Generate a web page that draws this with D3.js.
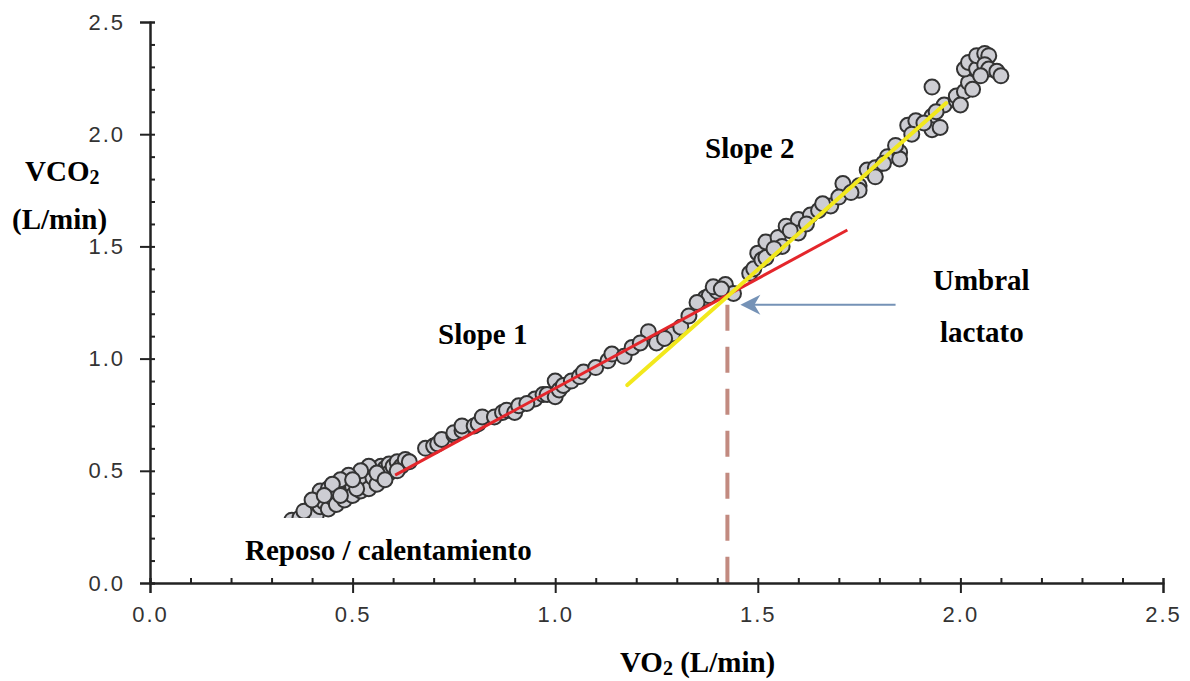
<!DOCTYPE html>
<html>
<head>
<meta charset="utf-8">
<script src="https://cdn.jsdelivr.net/npm/d3@7"></script>
<style>
  html, body { margin: 0; padding: 0; background: #fff; }
  svg { display: block; }
</style>
</head>
<body>
<svg id="chart" width="1190" height="681"></svg>
<script>
// VO2 (L/min) vs VCO2 (L/min) breath samples
const restPoints = [
  [0.35,0.28],[0.37,0.29],[0.39,0.31],[0.40,0.33],[0.41,0.30],[0.42,0.34],[0.43,0.36],
  [0.44,0.33],[0.42,0.41],[0.44,0.42],[0.45,0.38],[0.46,0.40],[0.46,0.35],[0.47,0.43],
  [0.48,0.41],[0.48,0.37],[0.49,0.45],[0.50,0.43],[0.50,0.39],[0.51,0.47],[0.52,0.44],
  [0.52,0.41],[0.53,0.49],[0.53,0.45],[0.54,0.42],[0.55,0.50],[0.55,0.47],[0.56,0.44],
  [0.57,0.52],[0.57,0.48],[0.58,0.51],[0.59,0.53],[0.59,0.49],[0.60,0.52],[0.61,0.54],
  [0.62,0.52],[0.63,0.55],[0.64,0.54],[0.54,0.52],[0.52,0.50],[0.49,0.48],[0.47,0.46],
  [0.45,0.44],[0.38,0.32],[0.40,0.37],[0.43,0.39],[0.47,0.39],[0.51,0.42],[0.56,0.49],
  [0.58,0.46],[0.50,0.46],[0.61,0.50]
];
const slope1Points = [
  [0.68,0.60],[0.70,0.61],[0.71,0.62],[0.72,0.64],[0.75,0.66],[0.75,0.67],[0.77,0.68],
  [0.77,0.70],[0.80,0.70],[0.81,0.71],[0.82,0.74],[0.85,0.74],[0.87,0.76],[0.88,0.77],
  [0.90,0.76],[0.91,0.79],[0.95,0.82],[0.93,0.80],[0.97,0.84],[0.98,0.84],[1.00,0.83],
  [1.00,0.90],[1.01,0.86],[1.02,0.88],[1.04,0.90],[1.06,0.92],[1.07,0.94],[1.10,0.96],
  [1.13,0.99],[1.14,1.02],[1.17,1.01],[1.19,1.05],[1.23,1.12],[1.25,1.07],[1.29,1.11],
  [1.31,1.14],[1.33,1.19],[1.37,1.27],[1.38,1.28],[1.40,1.30],[1.42,1.33],[1.44,1.29],
  [1.21,1.07],[1.27,1.09],[1.35,1.25],[1.39,1.32],[1.41,1.31]
];
const slope2Points = [
  [1.48,1.38],[1.49,1.40],[1.50,1.47],[1.51,1.44],[1.52,1.52],[1.52,1.45],[1.55,1.54],
  [1.56,1.50],[1.57,1.59],[1.60,1.62],[1.60,1.56],[1.63,1.64],[1.65,1.66],[1.68,1.68],
  [1.71,1.78],[1.75,1.77],[1.75,1.75],[1.77,1.84],[1.79,1.85],[1.79,1.81],[1.82,1.90],
  [1.85,1.92],[1.85,1.89],[1.87,2.04],[1.89,2.06],[1.93,2.08],[1.93,2.02],[1.95,2.03],
  [1.96,2.13],[1.99,2.15],[1.54,1.49],[1.58,1.57],[1.62,1.60],[1.66,1.69],[1.70,1.72],
  [1.73,1.74],[1.81,1.87],[1.84,1.95],[1.88,2.00],[1.91,2.05],[1.94,2.10]
];
const peakPoints = [
  [1.93,2.21],[1.99,2.17],[2.01,2.19],[2.02,2.23],[2.01,2.29],[2.02,2.32],[2.04,2.29],
  [2.04,2.35],[2.06,2.36],[2.07,2.35],[2.06,2.31],[2.07,2.29],[2.09,2.28],[2.10,2.26],
  [2.05,2.26],[2.03,2.20],[2.00,2.13]
];

// Fitted segments below and above the threshold
const slope1Fit = [[0.605,0.481],[1.721,1.573]];
const slope2Fit = [[1.178,0.882],[1.965,2.139]];

// Lactate threshold marker
const thresholdVO2 = 1.425;
const thresholdVCO2 = 1.24;
const arrowStartVO2 = 1.84;
const arrowTipVO2 = 1.457;

const xTicks = [0, 0.5, 1.0, 1.5, 2.0, 2.5];
const yTicks = [0, 0.5, 1.0, 1.5, 2.0, 2.5];
const minorTicks = d3.range(0, 26).map(i => i / 10);

const svg = d3.select("#chart");
const x = d3.scaleLinear().domain([0, 2.5]).range([150, 1163]);
const y = d3.scaleLinear().domain([0, 2.5]).range([583, 22]);

// Scatter of breath samples
const allPoints = restPoints.concat(slope1Points, slope2Points, peakPoints);
svg.append("g").selectAll("circle")
  .data(allPoints)
  .join("circle")
  .attr("cx", d => x(d[0]))
  .attr("cy", d => y(d[1]))
  .attr("r", 7.5)
  .attr("fill", "#cdcdd3")
  .attr("stroke", "#333")
  .attr("stroke-width", 2);

const line = d3.line().x(d => x(d[0])).y(d => y(d[1]));

svg.append("path").datum(slope1Fit)
  .attr("d", line).attr("fill", "none")
  .attr("stroke", "#e4262b").attr("stroke-width", 3);

svg.append("path").datum(slope2Fit)
  .attr("d", line).attr("fill", "none")
  .attr("stroke", "#f2e81c").attr("stroke-width", 4).attr("stroke-linecap", "round");

// Threshold dashed drop line
svg.append("line")
  .attr("x1", x(thresholdVO2)).attr("x2", x(thresholdVO2))
  .attr("y1", y(thresholdVCO2)).attr("y2", y(0))
  .attr("stroke", "#c28a80").attr("stroke-width", 4)
  .attr("stroke-dasharray", "26,16");

// Arrow pointing at the threshold
const ay = y(thresholdVCO2);
svg.append("line")
  .attr("x1", x(arrowStartVO2)).attr("x2", x(arrowTipVO2) + 12)
  .attr("y1", ay).attr("y2", ay)
  .attr("stroke", "#7592b6").attr("stroke-width", 2);
const tx = x(arrowTipVO2);
svg.append("path")
  .attr("d", `M${tx},${ay} L${tx + 20},${ay - 10} L${tx + 14},${ay} L${tx + 20},${ay + 10} Z`)
  .attr("fill", "#7592b6");

// Blank panel behind the resting-phase label
svg.append("rect")
  .attr("x", 237).attr("y", 518).attr("width", 312).attr("height", 58)
  .attr("fill", "#fff");

// Axes
const axisFont = "'Liberation Sans', Arial, sans-serif";
svg.append("g").attr("transform", `translate(0,${y(0)})`)
  .call(d3.axisBottom(x).tickValues(xTicks).tickSize(10).tickPadding(13)
    .tickFormat(d3.format(".1f")));
svg.append("g").attr("transform", `translate(0,${y(0)})`)
  .call(d3.axisBottom(x).tickValues(minorTicks).tickSize(-5).tickFormat(""));
svg.append("g").attr("transform", `translate(${x(0)},0)`)
  .call(d3.axisLeft(y).tickValues(yTicks).tickSize(10).tickPadding(15)
    .tickFormat(d3.format(".1f")));
svg.append("g").attr("transform", `translate(${x(0)},0)`)
  .call(d3.axisLeft(y).tickValues(minorTicks).tickSize(-5).tickFormat(""));

svg.selectAll(".domain").attr("stroke", "#222").attr("stroke-width", 2);
svg.selectAll(".tick line").attr("stroke", "#222").attr("stroke-width", 2);
svg.selectAll(".tick text")
  .attr("font-family", axisFont).attr("font-size", 22)
  .attr("letter-spacing", 2).attr("fill", "#333");

// Annotations
const serif = "'Liberation Serif', 'Times New Roman', serif";
function label(tx, ty, parts, anchor) {
  const t = svg.append("text")
    .attr("x", tx).attr("y", ty)
    .attr("font-family", serif).attr("font-weight", "bold")
    .attr("font-size", 29).attr("fill", "#000")
    .attr("text-anchor", anchor || "start");
  parts.forEach(p => {
    const s = t.append("tspan").text(p.text);
    if (p.sub) s.attr("font-size", 20).attr("dy", 3);
    if (p.after) s.attr("dy", -3);
  });
  return t;
}

label(25, 181, [{text: "VCO"}, {text: "2", sub: true}]);
label(12, 229, [{text: "(L/min)"}]);
label(705, 158, [{text: "Slope 2"}]);
label(438, 344, [{text: "Slope 1"}]);
label(933, 290, [{text: "Umbral"}]);
label(940, 342, [{text: "lactato"}]);
label(245, 560, [{text: "Reposo / calentamiento"}]);
label(620, 672, [{text: "VO"}, {text: "2", sub: true}, {text: " (L/min)", after: true}]);
</script>
</body>
</html>
